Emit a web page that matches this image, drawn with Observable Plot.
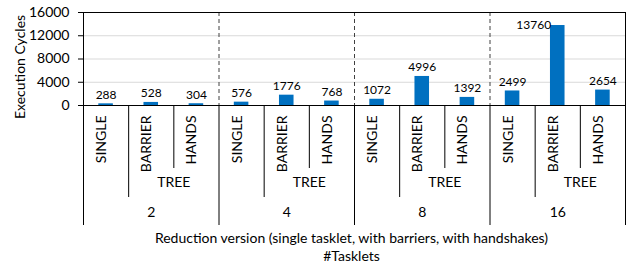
<!DOCTYPE html>
<html>
<head>
<meta charset="utf-8">
<script src="https://cdn.jsdelivr.net/npm/d3@7"></script>
<script src="https://cdn.jsdelivr.net/npm/@observablehq/plot@0.6"></script>
<style>
  html, body { margin: 0; padding: 0; background: #fff; }
  #chart svg { display: block; }
</style>
</head>
<body>
<div id="chart"></div>
<script>
// ---- data ----
const tasklets = ["2", "4", "8", "16"];
const versions = ["SINGLE", "BARRIER", "HANDS"];
const versionGroup = ["", "TREE", "TREE"];
const single = [288, 576, 1072, 2499];
const barrier = [528, 1776, 4996, 13760];
const hands = [304, 768, 1392, 2654];
const yTicks = [0, 4000, 8000, 12000, 16000];
const yTitle = "Execution Cycles";
const xTitle = ["Reduction version (single tasklet, with barriers, with handshakes)", "#Tasklets"];

// ---- layout ----
const W = 635, H = 269;
const mt = 12, mb = 164, ml = 83, mr = 10;
const frameH = H - mt - mb;
const font = "Lato, 'Open Sans', sans-serif";
const ink = "#000";

const series = [single, barrier, hands];
const rows = tasklets.flatMap((t, g) =>
  series.map((s, v) => ({tasklets: t, version: versions[v], group: versionGroup[v], value: s[g], i: g * 3 + v}))
);
const nSlots = rows.length;
const maxVal = d3.max(rows, d => d.value);

const groupEdges = d3.range(0, nSlots + 1, versions.length);          // between tasklet groups
const treeEdges = tasklets.map((t, g) => g * 3 + 1);                   // start of TREE span
const innerEdges = tasklets.map((t, g) => g * 3 + 2);                  // BARRIER | HANDS
const treeLabels = tasklets.map((t, g) => ({x: g * 3 + 2, text: "TREE"}));
const groupLabels = tasklets.map((t, g) => ({x: g * 3 + 1.5, text: t}));

const chart = Plot.plot({
  width: W,
  height: H,
  marginTop: mt,
  marginBottom: mb,
  marginLeft: ml,
  marginRight: mr,
  style: {fontFamily: font, background: "#fff", color: ink},
  x: {domain: [0, nSlots], axis: null},
  y: {domain: [0, 16000], axis: null},
  marks: [
    // gridlines
    Plot.ruleY(yTicks.filter(t => t > 0 && t < 16000), {stroke: "#d9d9d9", strokeWidth: 1}),
    // bars
    Plot.rectY(rows, {x1: "i", x2: d => d.i + 1, y: "value", fill: "#0070C0", insetLeft: 15.3, insetRight: 15.3}),
    // dashed separators between tasklet groups
    Plot.ruleX(groupEdges.filter(e => e > 0 && e < nSlots), {stroke: "#404040", strokeDasharray: "4,3"}),
    // frame lines
    Plot.ruleY([16000], {stroke: ink}),
    Plot.ruleY([0], {stroke: ink}),
    Plot.ruleX([nSlots], {stroke: ink}),
    // y axis
    Plot.axisY({ticks: yTicks, tickSize: 5, tickPadding: 9, tickFormat: d3.format("d"), label: null, fontSize: 14}),
    Plot.ruleX([0], {stroke: ink}),
    // value labels
    Plot.text(rows.filter(d => d.value !== maxVal), {x: d => d.i + 0.5, y: "value", text: d => String(d.value), lineAnchor: "bottom", dy: -5, fontSize: 12, fill: ink}),
    Plot.text(rows.filter(d => d.value === maxVal), {x: d => d.i + 0.5, y: "value", text: d => String(d.value), lineAnchor: "bottom", dx: -24, dy: 3, fontSize: 12, fill: ink}),
    // multi-level category axis: rules
    Plot.ruleX(innerEdges, {insetTop: frameH, insetBottom: -63, stroke: ink}),
    Plot.ruleX(treeEdges, {insetTop: frameH, insetBottom: -92, stroke: ink}),
    Plot.ruleX(groupEdges, {insetTop: frameH, insetBottom: -120, stroke: ink}),
    // level 1 labels (rotated)
    Plot.text(rows, {x: d => d.i + 0.5, text: "version", frameAnchor: "bottom", dy: 10, rotate: -90, textAnchor: "end", fontSize: 14, fill: ink}),
    // level 2 labels
    Plot.text(treeLabels, {x: "x", text: "text", frameAnchor: "bottom", dy: 81, fontSize: 14, fill: ink}),
    // level 3 labels
    Plot.text(groupLabels, {x: "x", text: "text", frameAnchor: "bottom", dy: 111, fontSize: 14, fill: ink}),
    // axis titles
    Plot.text([xTitle[0]], {x: nSlots / 2, text: d => d, frameAnchor: "bottom", dx: -3, dy: 137.5, fontSize: 14, fill: ink}),
    Plot.text([xTitle[1]], {x: nSlots / 2, text: d => d, frameAnchor: "bottom", dx: -3, dy: 155, fontSize: 14, fill: ink}),
    Plot.text([yTitle], {frameAnchor: "left", rotate: -90, textAnchor: "middle", lineAnchor: "middle", dx: -63, dy: 8, fontSize: 14, fill: ink})
  ]
});
document.getElementById("chart").appendChild(chart);
</script>
</body>
</html>
